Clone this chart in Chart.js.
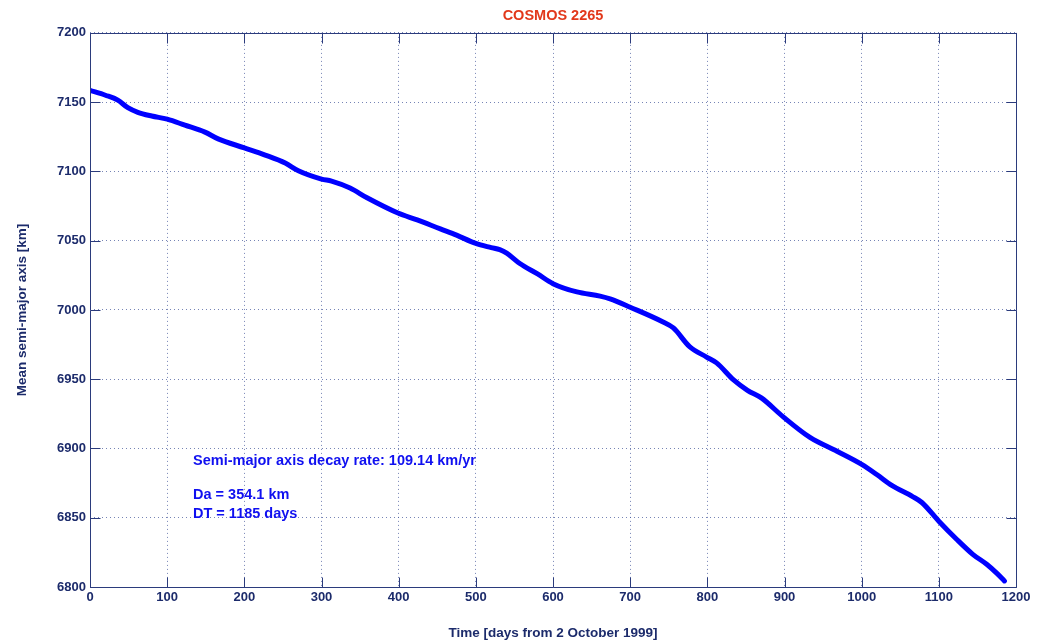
<!DOCTYPE html>
<html>
<head>
<meta charset="utf-8">
<script src="https://cdn.jsdelivr.net/npm/chart.js@4/dist/chart.umd.min.js"></script>
<style>
  html, body { margin: 0; padding: 0; background: #ffffff; }
  #wrap { width: 1040px; height: 643px; }
</style>
</head>
<body>
<div id="wrap"><canvas id="c" width="1040" height="643"></canvas></div>
<script>
// ---- data ----
const days = [0, 20, 36, 49, 62, 80, 100, 123, 149, 166, 200, 227, 253, 270, 300, 313, 337, 359, 399, 424,
  454, 475, 500, 520, 531, 540, 557, 580, 600, 631, 661, 674, 700, 742, 756, 777, 799, 812, 834, 852,
  870, 898, 933, 968, 1000, 1020, 1039, 1066, 1078, 1100, 1123, 1144, 1162, 1175, 1185];
const semiMajorAxis = [7158.5, 7155, 7151.5, 7146, 7142.7, 7140, 7137.7, 7133.4, 7128.4, 7123.5, 7117, 7111.8, 7106, 7100.5, 7094.5, 7093, 7088, 7081, 7070, 7065,
  7058.5, 7054, 7048, 7045, 7043.5, 7041, 7033.5, 7026, 7019, 7013, 7010, 7008, 7002, 6991.5, 6987, 6973.5, 6966, 6961.8, 6949.5, 6942,
  6936.5, 6923, 6908, 6898, 6888.5, 6881, 6873.3, 6865.3, 6861, 6847.5, 6834.5, 6823.6, 6816.4, 6810, 6804.4];
const xTicks = [0, 100, 200, 300, 400, 500, 600, 700, 800, 900, 1000, 1100, 1200];
const yTicks = [6800, 6850, 6900, 6950, 7000, 7050, 7100, 7150, 7200];
const chartTitle = 'COSMOS 2265';
const xTitle = 'Time [days from 2 October 1999]';
const yTitle = 'Mean semi-major axis [km]';
const noteLines = ['Semi-major axis decay rate: 109.14 km/yr', 'Da = 354.1 km', 'DT = 1185 days'];

// ---- styles ----
const FONT = "'Liberation Sans', Arial, sans-serif";
const NAVY = '#1c2b6b';
const AXIS = '#2b3b7c';
const GRID = 'rgba(60,80,150,0.7)';
const LINE = '#0000ff';

const points = days.map((d, i) => ({ x: d, y: semiMajorAxis[i] }));

const boxPlugin = {
  id: 'boxAndTicks',
  afterDatasetsDraw(chart) {
    const { ctx, chartArea: a, scales } = chart;
    ctx.save();
    ctx.strokeStyle = AXIS;
    ctx.lineWidth = 1;
    ctx.setLineDash([]);
    const L = Math.round(a.left) + 0.5, R = Math.round(a.right) + 0.5;
    const T = Math.round(a.top) + 0.5, B = Math.round(a.bottom) + 0.5;
    ctx.beginPath();
    ctx.rect(L, T, R - L, B - T);
    const tl = 10;
    xTicks.forEach(v => {
      const px = Math.round(scales.x.getPixelForValue(v)) + 0.5;
      ctx.moveTo(px, B); ctx.lineTo(px, B - tl);
      ctx.moveTo(px, T); ctx.lineTo(px, T + tl);
    });
    yTicks.forEach(v => {
      const py = Math.round(scales.y.getPixelForValue(v)) + 0.5;
      ctx.moveTo(L, py); ctx.lineTo(L + tl, py);
      ctx.moveTo(R, py); ctx.lineTo(R - tl, py);
    });
    ctx.stroke();

    // annotation text placed in data coordinates
    const nx = scales.x.getPixelForValue(133.5);
    const ny = scales.y.getPixelForValue(6891.2);
    ctx.fillStyle = '#1010f0';
    ctx.font = 'bold 14.5px ' + FONT;
    ctx.textBaseline = 'middle';
    ctx.textAlign = 'left';
    const offsets = [0, 34, 53];
    noteLines.forEach((t, i) => ctx.fillText(t, nx, ny + offsets[i]));
    ctx.restore();
  }
};

const plainNum = v => String(v);

new Chart(document.getElementById('c'), {
  type: 'line',
  data: {
    datasets: [{
      data: points,
      borderColor: LINE,
      borderWidth: 5,
      pointRadius: 0,
      fill: false,
      cubicInterpolationMode: 'monotone',
      borderCapStyle: 'round',
      borderJoinStyle: 'round'
    }]
  },
  options: {
    responsive: false,
    animation: false,
    layout: { padding: { left: 0, right: 24, top: 0, bottom: 0 } },
    plugins: {
      legend: { display: false },
      tooltip: { enabled: false },
      title: {
        display: true,
        text: chartTitle,
        fullSize: false,
        color: '#e2381b',
        font: { family: FONT, size: 14.5, weight: 'bold' },
        padding: { top: 7, bottom: 8.5 }
      }
    },
    scales: {
      x: {
        type: 'linear',
        min: 0, max: 1200,
        afterBuildTicks: s => { s.ticks = xTicks.map(v => ({ value: v })); },
        afterFit: s => { s.height = 56; },
        ticks: { color: NAVY, font: { family: FONT, size: 13, weight: 'bold' }, padding: 3, maxRotation: 0, autoSkip: false, callback: plainNum },
        grid: { color: GRID, lineWidth: 1, drawTicks: false },
        border: { display: false, dash: [1, 3] },
        title: { display: true, text: xTitle, color: NAVY, font: { family: FONT, size: 13.5, weight: 'bold' }, padding: { top: 0, bottom: 2 } }
      },
      y: {
        type: 'linear',
        min: 6800, max: 7200,
        afterBuildTicks: s => { s.ticks = yTicks.map(v => ({ value: v })); },
        afterFit: s => { s.width = 90; },
        ticks: { color: NAVY, font: { family: FONT, size: 13, weight: 'bold' }, padding: 4, autoSkip: false, callback: plainNum },
        grid: { color: GRID, lineWidth: 1, drawTicks: false },
        border: { display: false, dash: [1, 3] },
        title: { display: true, text: yTitle, color: NAVY, font: { family: FONT, size: 13.5, weight: 'bold' }, padding: { top: 14, bottom: 0 } }
      }
    }
  },
  plugins: [boxPlugin]
});
</script>
</body>
</html>
